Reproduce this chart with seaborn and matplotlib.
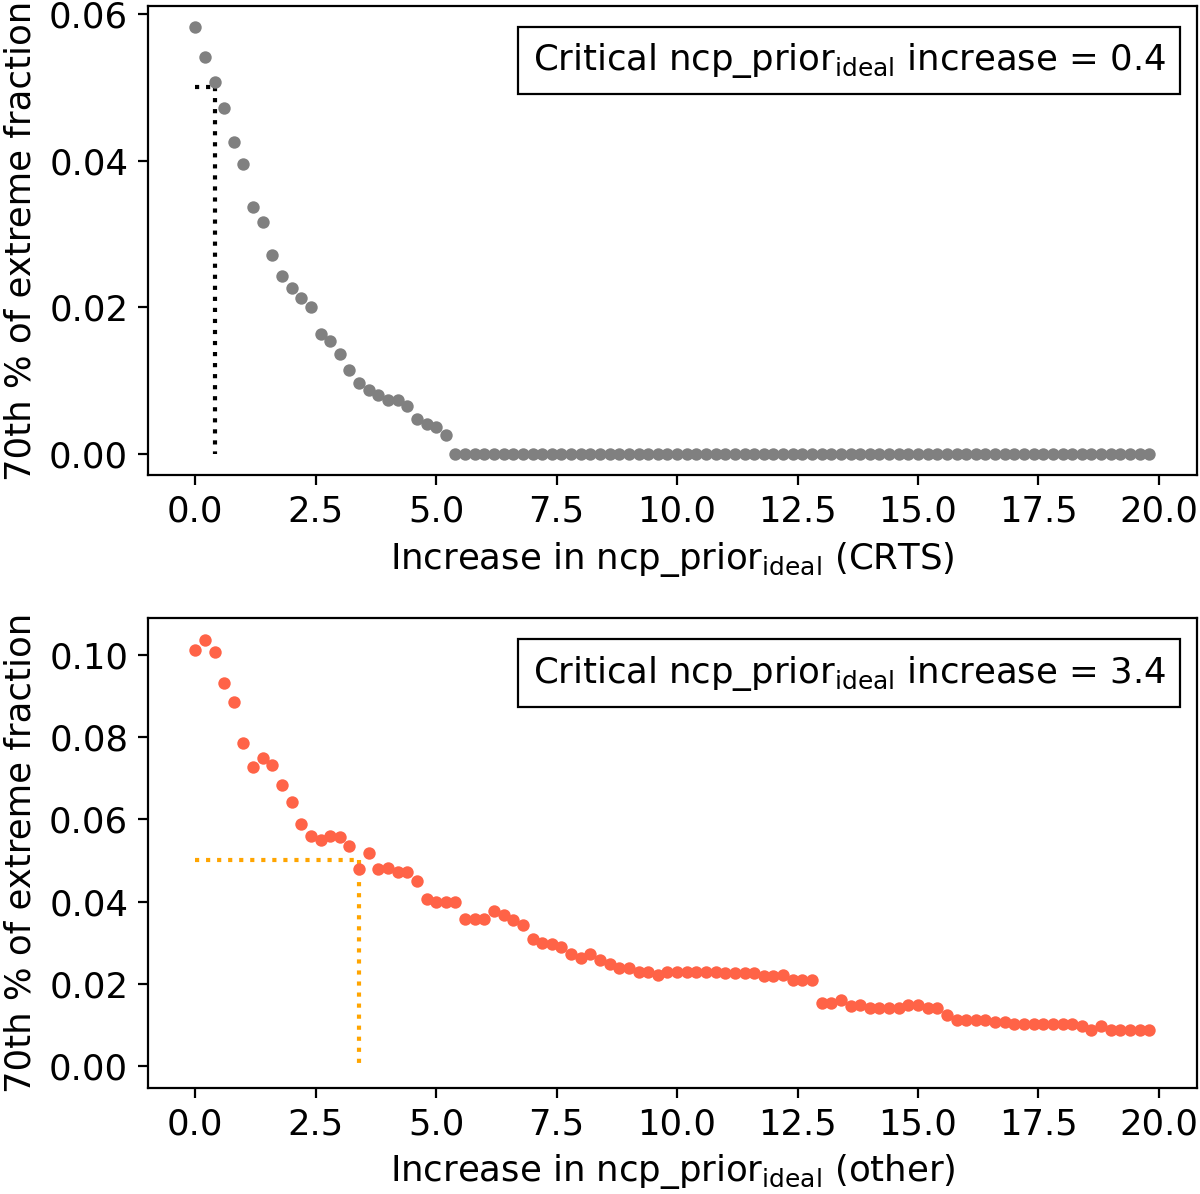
import numpy as np
import pandas as pd
import seaborn as sns
import matplotlib
matplotlib.use("Agg")
import matplotlib.pyplot as plt

# x grid: increase in ncp_prior_ideal, 0.0 .. 19.8 in steps of 0.2
increase = [round(0.2 * i, 1) for i in range(100)]

# CRTS: 70th percentile of extreme fraction
crts_frac = [0.0582, 0.0541, 0.0507, 0.0472, 0.0425, 0.0395, 0.0337, 0.0317, 0.0272, 0.0243,
             0.0226, 0.0213, 0.0200, 0.0163, 0.0154, 0.0137, 0.0114, 0.0097, 0.0087, 0.0080,
             0.0074, 0.0074, 0.0065, 0.0048, 0.0041, 0.0037, 0.0026] + [0.0] * 73

# other sources
other_frac = [0.1012, 0.1036, 0.1007, 0.0932, 0.0885, 0.0785, 0.0726, 0.0750, 0.0733, 0.0684,
              0.0643, 0.0589, 0.0559, 0.0550, 0.0560, 0.0556, 0.0535, 0.0480, 0.0517, 0.0480,
              0.0481, 0.0471, 0.0471, 0.0451, 0.0407, 0.0399, 0.0399, 0.0399, 0.0357, 0.0357,
              0.0357, 0.0378, 0.0368, 0.0356, 0.0344, 0.0310, 0.0300, 0.0297, 0.0291, 0.0274,
              0.0264, 0.0273, 0.0258, 0.0248, 0.0238, 0.0240, 0.0229, 0.0229, 0.0222, 0.0229,
              0.0229, 0.0229, 0.0229, 0.0229, 0.0229, 0.0228, 0.0227, 0.0228, 0.0228, 0.0220,
              0.0220, 0.0221, 0.0210, 0.0210, 0.0210, 0.0155, 0.0155, 0.0161, 0.0147, 0.0149,
              0.0142, 0.0143, 0.0143, 0.0141, 0.0150, 0.0150, 0.0142, 0.0142, 0.0126, 0.0112,
              0.0112, 0.0112, 0.0112, 0.0108, 0.0108, 0.0102, 0.0102, 0.0102, 0.0102, 0.0102,
              0.0102, 0.0102, 0.0098, 0.0088, 0.0098, 0.0089, 0.0089, 0.0089, 0.0089, 0.0089]

threshold = 0.05
critical = [0.4, 3.4]
samples = ["CRTS", "other"]

fs = 12.8
sns.set_style("ticks")
plt.rcParams["font.family"] = ["DejaVu Sans"]
plt.rcParams["font.size"] = fs
plt.rcParams["axes.edgecolor"] = "black"
plt.rcParams["xtick.color"] = "black"
plt.rcParams["ytick.color"] = "black"
plt.rcParams["axes.labelcolor"] = "black"
plt.rcParams["text.color"] = "black"

fig, axes = plt.subplots(2, 1, figsize=(6, 5.97), dpi=200)
fig.subplots_adjust(left=0.123, right=0.9975, top=0.995, bottom=0.089, hspace=0.305)

series = [crts_frac, other_frac]
colors = ["grey", "tomato"]
line_colors = ["black", "orange"]

for ax, frac, col, lcol, crit, name in zip(axes, series, colors, line_colors, critical, samples):
    df = pd.DataFrame({"increase": increase, "frac": frac})
    sns.scatterplot(data=df, x="increase", y="frac", color=col, s=20, linewidth=0, ax=ax, zorder=3)
    ax.plot([0, crit], [threshold, threshold], ls=":", color=lcol, lw=1.5, zorder=2)
    ax.plot([crit, crit], [threshold, 0], ls=":", color=lcol, lw=1.5, zorder=2)
    ax.set_xlabel(r"Increase in ncp_prior$_{\rm ideal}$ (" + name + ")", fontsize=fs)
    ax.set_ylabel("70th % of extreme fraction", fontsize=fs)
    ax.tick_params(labelsize=fs, direction="out", length=3.5, width=0.8)
    ax.set_xticks(np.arange(0, 20.1, 2.5))
    for sp in ax.spines.values():
        sp.set_linewidth(0.8)
        sp.set_color("black")
    ax.text(0.97, 0.925, r"Critical ncp_prior$_{\rm ideal}$ increase = " + str(crit),
            transform=ax.transAxes, ha="right", va="top", fontsize=fs,
            bbox=dict(boxstyle="square,pad=0.4", fc="white", ec="black", lw=0.8))

axes[0].set_yticks([0.0, 0.02, 0.04, 0.06])
axes[0].set_yticklabels(["0.00", "0.02", "0.04", "0.06"])
axes[1].set_yticks([0.0, 0.02, 0.04, 0.06, 0.08, 0.10])
axes[1].set_yticklabels(["0.00", "0.02", "0.04", "0.06", "0.08", "0.10"])

plt.savefig("out.png", dpi=200)
plt.close()
